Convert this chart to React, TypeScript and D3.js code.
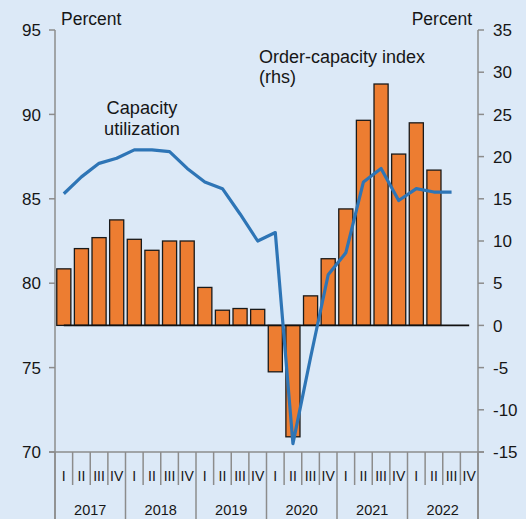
import React from 'react'
import * as d3 from 'd3'

// quarters 2017Q1 .. 2022Q4
const years = ['2017', '2018', '2019', '2020', '2021', '2022']
const quarterNames = ['I', 'II', 'III', 'IV']

// capacity utilization, percent (lhs), 2017Q1 .. 2022Q3
const capacityUtilization = [
  85.3, 86.3, 87.1, 87.4, 87.9, 87.9, 87.8, 86.8, 86.0, 85.6, 84.1, 82.5,
  83.0, 70.5, 75.6, 80.5, 81.8, 86.0, 86.8, 84.9, 85.6, 85.4, 85.4,
]

// order-capacity index (rhs), 2017Q1 .. 2022Q2
const orderCapacity = [
  6.7, 9.1, 10.4, 12.5, 10.2, 8.9, 10.0, 10.0, 4.5, 1.8, 2.0, 1.9,
  -5.5, -13.2, 3.5, 7.9, 13.8, 24.3, 28.6, 20.3, 24.0, 18.4,
]

const leftTicks = [70, 75, 80, 85, 90, 95]
const rightTicks = [-15, -10, -5, 0, 5, 10, 15, 20, 25, 30, 35]

const W = 526
const H = 519
const L = 55
const R = 478
const T = 30
const B = 452

const font = '"Liberation Sans", Arial, sans-serif'
const axisColor = '#8c8c8c'
const ink = '#161616'

const App = () => {
  const periods = years.flatMap(y => quarterNames.map(q => `${y}-${q}`))

  const x = d3.scaleBand<string>()
    .domain(periods)
    .range([L, R])
    .paddingInner(0.2)
    .paddingOuter(0.1)
  const step = (R - L) / periods.length
  const cx = (i: number) => (x(periods[i]) as number) + x.bandwidth() / 2

  const yLeft = d3.scaleLinear().domain([70, 95]).range([B, T])
  const yRight = d3.scaleLinear().domain([-15, 35]).range([B, T])

  const line = d3.line<number>()
    .x((_, i) => cx(i))
    .y(d => yLeft(d))

  return (
    <svg width={W} height={H} style={{ position: 'absolute', left: 0, top: 0, background: '#dce9f7' }}
      fontFamily={font}>
      <rect x={0} y={0} width={W} height={H} fill='#dce9f7' />

      {/* bars */}
      {orderCapacity.map((v, i) => (
        <rect key={i}
          x={x(periods[i])}
          y={yRight(Math.max(0, v))}
          width={x.bandwidth()}
          height={Math.abs(yRight(v) - yRight(0))}
          fill='#ed7d31'
          stroke='#1a1a1a'
          strokeWidth={1.3} />
      ))}

      {/* zero line */}
      <line x1={cx(0)} x2={cx(periods.length - 1)} y1={yRight(0)} y2={yRight(0)}
        stroke='#111' strokeWidth={1.6} />

      {/* capacity utilization */}
      <path d={line(capacityUtilization) || ''} fill='none' stroke='#2e75b6' strokeWidth={3.2}
        strokeLinejoin='round' />

      {/* left axis */}
      <line x1={L} x2={L} y1={T} y2={H} stroke={axisColor} strokeWidth={1.5} />
      {leftTicks.map(t => (
        <g key={t}>
          <line x1={L - 6} x2={L} y1={yLeft(t)} y2={yLeft(t)} stroke={axisColor} strokeWidth={1.5} />
          <text x={L - 14} y={yLeft(t)} dy='0.36em' textAnchor='end' fontSize={17} fill={ink}>{t}</text>
        </g>
      ))}

      {/* right axis */}
      <line x1={R} x2={R} y1={T} y2={H} stroke={axisColor} strokeWidth={1.5} />
      {rightTicks.map(t => (
        <g key={t}>
          <line x1={R} x2={R + 6} y1={yRight(t)} y2={yRight(t)} stroke={axisColor} strokeWidth={1.5} />
          <text x={R + 15} y={yRight(t)} dy='0.36em' textAnchor='start' fontSize={17} fill={ink}>{t}</text>
        </g>
      ))}

      {/* category axis */}
      <line x1={L - 6} x2={R + 6} y1={B} y2={B} stroke={axisColor} strokeWidth={1.5} />
      {d3.range(periods.length + 1).map(i => (
        <line key={i} x1={L + i * step} x2={L + i * step} y1={B} y2={i % 4 === 0 ? H : 485}
          stroke={axisColor} strokeWidth={1.5} />
      ))}
      {periods.map((p, i) => (
        <text key={p} x={cx(i)} y={481} textAnchor='middle' fontSize={14} fill={ink}>
          {quarterNames[i % 4]}
        </text>
      ))}
      {years.map((y, i) => (
        <text key={y} x={L + (i * 4 + 2) * step} y={515} textAnchor='middle' fontSize={14.5} fill={ink}>{y}</text>
      ))}

      {/* titles */}
      <text x={61} y={25} fontSize={17.5} fill={ink}>Percent</text>
      <text x={472} y={25} fontSize={17.5} textAnchor='end' fill={ink}>Percent</text>

      <text x={142} y={114} fontSize={18.2} textAnchor='middle' fill={ink}>
        <tspan x={142}>Capacity</tspan>
        <tspan x={142} dy={20.5}>utilization</tspan>
      </text>
      <text x={259} y={62.5} fontSize={18} fill={ink}>
        <tspan x={259}>Order-capacity index</tspan>
        <tspan x={259} dy={20.5}>(rhs)</tspan>
      </text>
    </svg>
  )
}

export default App
